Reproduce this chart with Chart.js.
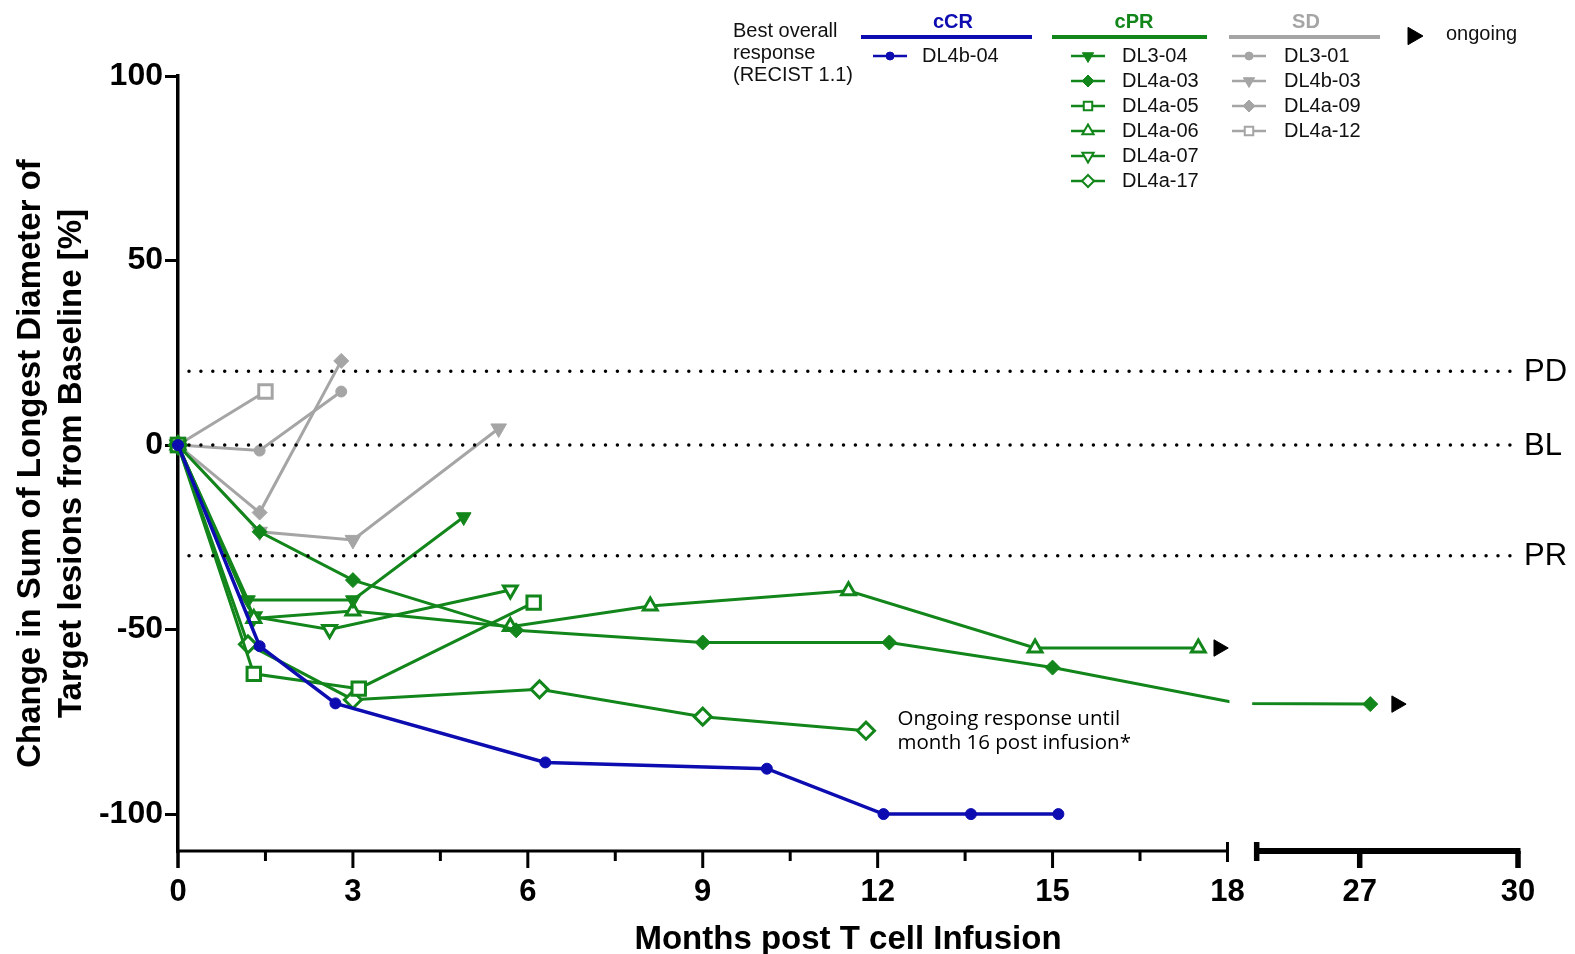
<!DOCTYPE html>
<html>
<head>
<meta charset="utf-8">
<script src="https://cdn.jsdelivr.net/npm/chart.js"></script>
<style>
  html, body { margin: 0; padding: 0; background: #fff; }
</style>
</head>
<body>
<canvas id="chart" width="1575" height="954"></canvas>
<script>
// months post infusion (x) and % change from baseline (y), one pair per patient
// cCR
const dl4b04X = [0, 1.4, 2.7, 6.3, 10.1, 12.1, 13.6, 15.1];
const dl4b04Y = [0, -54.5, -70, -86, -87.7, -100, -100, -100];
// cPR
const dl304X = [0, 1.2, 3.0, 4.9];
const dl304Y = [0, -42, -42, -19.5];
const dl4a03X = [0, 1.4, 3.0, 5.8, 9.0, 12.2, 15.0, 18.2, 27.2];   // 18.2 vertex sits inside the axis break
const dl4a03Y = [0, -23.5, -36.6, -50.2, -53.5, -53.5, -60.3, -70, -70.2];
const dl4a05X = [0, 1.3, 3.1, 6.1];
const dl4a05Y = [0, -62, -66, -42.7];
const dl4a06X = [0, 1.3, 3.0, 5.7, 8.1, 11.5, 14.7, 17.5];
const dl4a06Y = [0, -47, -45, -49.2, -43.6, -39.5, -55, -55];
const dl4a07X = [0, 1.3, 2.6, 5.7];
const dl4a07Y = [0, -46.5, -50, -39.3];
const dl4a17X = [0, 1.2, 3.0, 6.2, 9.0, 11.8];
const dl4a17Y = [0, -54, -69, -66.2, -73.6, -77.4];
// SD
const dl301X = [0, 1.4, 2.8];
const dl301Y = [0, -1.5, 14.5];
const dl4b03X = [0, 1.4, 3.0, 5.5];
const dl4b03Y = [0, -23.5, -25.7, 4.5];
const dl4a09X = [0, 1.4, 2.8];
const dl4a09Y = [0, -18.3, 22.8];
const dl4a12X = [0, 1.5];
const dl4a12Y = [0, 14.5];
// ongoing response arrows
const ongoingX = [17.85, 27.7];
const ongoingY = [-55, -70.2];

// axes
const yTicks = [-100, -50, 0, 50, 100];
const xTicksMajor = [0, 3, 6, 9, 12, 15, 18];
const xTicksMinor = [1.5, 4.5, 7.5, 10.5, 13.5, 16.5];
const xTicksSeg2 = [27, 30];
const refLines = [20, 0, -30];
const refLabels = ['PD', 'BL', 'PR'];

const BLUE = '#0c0cb0';
const GREEN = '#12861a';
const GREY = '#a5a5a5';
const FONT = '"Liberation Sans", Arial, sans-serif';

// broken x axis: 0-18, then 25-30 on a slightly tighter scale
const GAP = 0.458, SEG2 = 0.905;
function tx(m) { return m < 25 ? m : 18 + GAP + (m - 25) * SEG2; }

function mk(label, xs, ys, color, style, rot, filled, r, extra) {
  return Object.assign({
    label: label,
    data: xs.map((x, i) => ({ x: tx(x), y: ys[i] })),
    borderColor: color,
    borderWidth: 3,
    pointStyle: style,
    rotation: rot,
    pointRadius: r,
    pointBorderWidth: filled ? 1 : 3,
    pointBorderColor: color,
    pointBackgroundColor: filled ? color : '#fff',
    tension: 0,
    clip: false,
    _style: style, _rot: rot, _filled: filled
  }, extra || {});
}

const hidden = dl4a03X.map(x => (x > 18 && x < 25) ? 0 : 7.5);

const datasets = [
  { label: 'ongoing', data: ongoingX.map((x, i) => ({ x: tx(x), y: ongoingY[i] })), showLine: false,
    pointStyle: 'triangle', rotation: 90, pointRadius: 9.5, pointBackgroundColor: '#000', pointBorderColor: '#000',
    pointBorderWidth: 1, clip: false },
  mk('DL4b-04', dl4b04X, dl4b04Y, BLUE, 'circle', 0, true, 5.5, { borderWidth: 3.5 }),
  mk('DL3-04', dl304X, dl304Y, GREEN, 'triangle', 180, true, 8.5),
  mk('DL4a-03', dl4a03X, dl4a03Y, GREEN, 'rectRot', 0, true, hidden),
  mk('DL4a-05', dl4a05X, dl4a05Y, GREEN, 'rect', 0, false, 9.5),
  mk('DL4a-06', dl4a06X, dl4a06Y, GREEN, 'triangle', 0, false, 8),
  mk('DL4a-07', dl4a07X, dl4a07Y, GREEN, 'triangle', 180, false, 8),
  mk('DL4a-17', dl4a17X, dl4a17Y, GREEN, 'rectRot', 0, false, 8.5),
  mk('DL3-01', dl301X, dl301Y, GREY, 'circle', 0, true, 5.5),
  mk('DL4b-03', dl4b03X, dl4b03Y, GREY, 'triangle', 180, true, 9),
  mk('DL4a-09', dl4a09X, dl4a09Y, GREY, 'rectRot', 0, true, 7.5),
  mk('DL4a-12', dl4a12X, dl4a12Y, GREY, 'rect', 0, false, 9.5)
];

function drawMarker(ctx, style, rot, x, y, r, fill, stroke, lw) {
  ctx.save();
  ctx.translate(x, y);
  ctx.rotate(rot * Math.PI / 180);
  ctx.beginPath();
  if (style === 'circle') {
    ctx.arc(0, 0, r, 0, Math.PI * 2);
  } else if (style === 'rect') {
    const s = r * Math.SQRT1_2;
    ctx.rect(-s, -s, 2 * s, 2 * s);
  } else if (style === 'rectRot') {
    ctx.moveTo(0, -r); ctx.lineTo(r, 0); ctx.lineTo(0, r); ctx.lineTo(-r, 0); ctx.closePath();
  } else {
    for (let k = 0; k < 3; k++) {
      const a = k * 2 * Math.PI / 3;
      if (k === 0) ctx.moveTo(Math.sin(a) * r, -Math.cos(a) * r);
      else ctx.lineTo(Math.sin(a) * r, -Math.cos(a) * r);
    }
    ctx.closePath();
  }
  ctx.fillStyle = fill;
  ctx.fill();
  ctx.lineWidth = lw;
  ctx.strokeStyle = stroke;
  ctx.stroke();
  ctx.restore();
}

const legendGroups = [
  { title: 'cCR', color: BLUE, x1: 861, x2: 1032, head: 953, sample: 890, text: 922, items: ['DL4b-04'] },
  { title: 'cPR', color: GREEN, x1: 1052, x2: 1207, head: 1134, sample: 1088, text: 1122,
    items: ['DL3-04', 'DL4a-03', 'DL4a-05', 'DL4a-06', 'DL4a-07', 'DL4a-17'] },
  { title: 'SD', color: GREY, x1: 1229, x2: 1380, head: 1306, sample: 1249, text: 1284,
    items: ['DL3-01', 'DL4b-03', 'DL4a-09', 'DL4a-12'] }
];

const breakPlugin = {
  id: 'breakPlugin',
  beforeDatasetsDraw(chart) {
    const ctx = chart.ctx, xs = chart.scales.x;
    const a = xs.getPixelForValue(18) + 2;
    const b = xs.getPixelForValue(tx(25)) - 2;
    ctx.save();
    ctx.beginPath();
    ctx.rect(0, 0, chart.width, chart.height);
    ctx.rect(a, 0, b - a, chart.height);
    ctx.clip('evenodd');
  },
  afterDatasetsDraw(chart) {
    chart.ctx.restore();
  },
  afterDraw(chart) {
    const ctx = chart.ctx, xs = chart.scales.x, ys = chart.scales.y;
    const area = chart.chartArea;
    ctx.save();

    // dotted reference lines PD / BL / PR
    ctx.strokeStyle = '#000';
    ctx.lineWidth = 3.5;
    ctx.lineCap = 'round';
    ctx.setLineDash([0, 11.9]);
    ctx.fillStyle = '#000';
    ctx.font = '31px ' + FONT;
    ctx.textBaseline = 'middle';
    ctx.textAlign = 'left';
    refLines.forEach((v, i) => {
      const y = ys.getPixelForValue(v);
      ctx.beginPath();
      ctx.moveTo(area.left + 11, y);
      ctx.lineTo(area.right, y);
      ctx.stroke();
      ctx.fillText(refLabels[i], area.right + 6, y + 1);
    });
    ctx.setLineDash([]);
    ctx.lineCap = 'butt';

    // x axis, first segment
    const yb = area.bottom;
    const x18 = xs.getPixelForValue(18);
    ctx.lineWidth = 3;
    ctx.beginPath();
    ctx.moveTo(area.left - 1.5, yb);
    ctx.lineTo(x18, yb);
    ctx.stroke();
    xTicksMajor.forEach(v => {
      const x = xs.getPixelForValue(v);
      ctx.beginPath();
      ctx.moveTo(x, v === 18 ? yb - 9 : yb);
      ctx.lineTo(x, yb + (v === 18 ? 11 : 17));
      ctx.lineWidth = v === 0 ? 3.5 : 3;
      ctx.stroke();
    });
    ctx.lineWidth = 3;
    xTicksMinor.forEach(v => {
      const x = xs.getPixelForValue(v);
      ctx.beginPath();
      ctx.moveTo(x, yb);
      ctx.lineTo(x, yb + 10);
      ctx.stroke();
    });

    // x axis, second segment (thicker)
    const xs2 = xs.getPixelForValue(tx(25));
    const xe2 = xs.getPixelForValue(tx(30));
    ctx.lineWidth = 6;
    ctx.beginPath();
    ctx.moveTo(xs2, yb);
    ctx.lineTo(xe2 + 2.5, yb);
    ctx.stroke();
    ctx.lineWidth = 5.5;
    ctx.beginPath();
    ctx.moveTo(xs2 + 2.5, yb - 9);
    ctx.lineTo(xs2 + 2.5, yb + 10);
    ctx.stroke();
    xTicksSeg2.forEach(v => {
      const x = xs.getPixelForValue(tx(v));
      ctx.beginPath();
      ctx.moveTo(x, yb);
      ctx.lineTo(x, yb + 17);
      ctx.stroke();
    });

    // x tick labels
    ctx.font = 'bold 31px ' + FONT;
    ctx.textAlign = 'center';
    ctx.textBaseline = 'middle';
    xTicksMajor.concat(xTicksSeg2).forEach(v => {
      ctx.fillText(String(v), xs.getPixelForValue(tx(v)), yb + 41);
    });

    // axis titles
    ctx.font = 'bold 33px ' + FONT;
    ctx.fillText('Months post T cell Infusion', (area.left + area.right) / 2, yb + 89);
    ctx.save();
    ctx.translate(31, (area.top + area.bottom) / 2);
    ctx.rotate(-Math.PI / 2);
    ctx.font = 'bold 33px ' + FONT;
    ctx.fillText('Change in Sum of Longest Diameter of', 0, 0);
    ctx.fillText('Target lesions from Baseline [%]', 0, 41);
    ctx.restore();

    // annotation
    ctx.font = '20.5px "Open Sans", sans-serif';
    ctx.textAlign = 'left';
    ctx.textBaseline = 'alphabetic';
    const ax = xs.getPixelForValue(12.34);
    const ay = ys.getPixelForValue(-75.9);
    ctx.fillText('Ongoing response until', ax, ay);
    ctx.fillText('month 16 post infusion*', ax, ay + 24);

    // legend
    ctx.font = '20px ' + FONT;
    ctx.fillStyle = '#111';
    ctx.textBaseline = 'middle';
    ctx.fillText('Best overall', 733, 31);
    ctx.fillText('response', 733, 53);
    ctx.fillText('(RECIST 1.1)', 733, 75);
    legendGroups.forEach(g => {
      ctx.font = 'bold 20px ' + FONT;
      ctx.fillStyle = g.color;
      ctx.textAlign = 'center';
      ctx.fillText(g.title, g.head, 22);
      ctx.fillRect(g.x1, 35, g.x2 - g.x1, 4);
      ctx.font = '20px ' + FONT;
      ctx.textAlign = 'left';
      g.items.forEach((name, i) => {
        const y = 56 + i * 25;
        const d = chart.data.datasets.find(s => s.label === name);
        ctx.strokeStyle = g.color;
        ctx.lineWidth = 2.5;
        ctx.beginPath();
        ctx.moveTo(g.sample - 17, y);
        ctx.lineTo(g.sample + 17, y);
        ctx.stroke();
        const r = d._style === 'circle' ? 4 : (d._style === 'triangle' ? 6.5 : 6);
        drawMarker(ctx, d._style, d._rot, g.sample, y, r, d._filled ? g.color : '#fff', g.color, d._filled ? 1 : 2);
        ctx.fillStyle = '#111';
        ctx.fillText(name, g.text, y);
      });
    });
    drawMarker(ctx, 'triangle', 90, 1413, 36, 10, '#000', '#000', 1);
    ctx.fillStyle = '#111';
    ctx.fillText('ongoing', 1446, 34);

    ctx.restore();
  }
};

new Chart(document.getElementById('chart').getContext('2d'), {
  type: 'line',
  data: { datasets: datasets },
  options: {
    responsive: false,
    devicePixelRatio: 1,
    animation: false,
    events: [],
    layout: { padding: { top: 76, right: 57, bottom: 103, left: 0 } },
    plugins: { legend: { display: false }, tooltip: { enabled: false } },
    scales: {
      x: { type: 'linear', display: false, min: 0, max: tx(30) },
      y: {
        min: -110, max: 100,
        afterBuildTicks: s => { s.ticks = yTicks.map(v => ({ value: v })); },
        afterFit: s => { s.width = 178; },
        border: { color: '#000', width: 3.5 },
        grid: { drawOnChartArea: false, color: '#000', lineWidth: 3, tickLength: 13 },
        ticks: { color: '#000', padding: 2, font: { family: FONT, size: 32, weight: 'bold' } }
      }
    }
  },
  plugins: [breakPlugin]
});
</script>
</body>
</html>
